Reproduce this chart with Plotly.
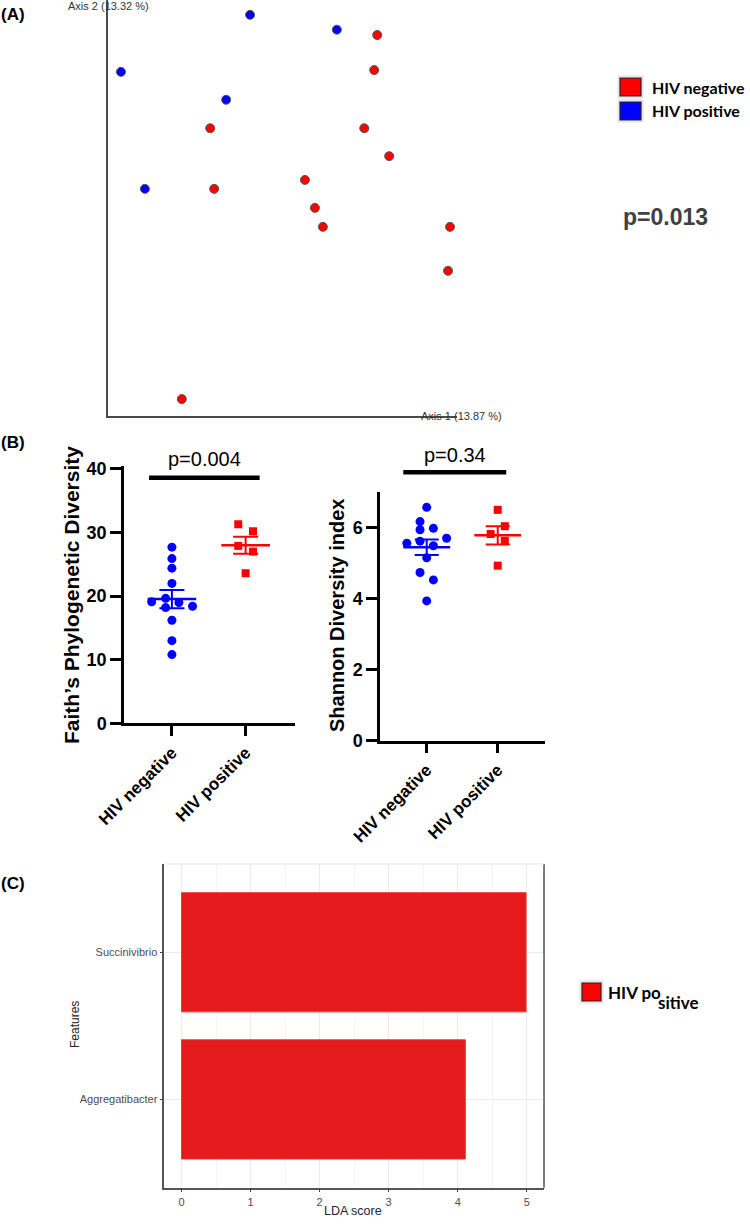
import numpy as np
import plotly.graph_objects as go

W, H = 750, 1225
ARIAL = "Arial, Liberation Sans, sans-serif"
CAL = "Lato, Open Sans, sans-serif"

# ---------------- Data ----------------
# (A) PCoA coordinates (Axis 1, Axis 2)
pcoa_neg_x = [0.240, 0.234, -0.095, 0.214, 0.264, 0.095, -0.087, 0.115, 0.131, 0.386, 0.382, -0.152]
pcoa_neg_y = [0.291, 0.232, 0.134, 0.134, 0.087, 0.047, 0.032, 0.000, -0.032, -0.032, -0.106, -0.322]
pcoa_pos_x = [-0.015, 0.159, -0.274, -0.063, -0.226]
pcoa_pos_y = [0.325, 0.300, 0.229, 0.182, 0.032]

# (B) alpha diversity
groups = ["HIV negative", "HIV positive"]
faith_neg = [27.7, 25.9, 24.4, 22.0, 19.65, 19.1, 19.0, 18.4, 18.2, 16.2, 13.0, 10.8]
faith_pos = [31.3, 30.2, 27.9, 27.0, 23.6]
shannon_neg = [6.56, 6.16, 5.93, 5.97, 5.55, 5.61, 5.48, 5.69, 5.14, 4.73, 4.52, 3.93]
shannon_pos = [6.49, 6.03, 5.81, 5.62, 4.92]
faith_neg_jit = [0, 0, 0, 0, -0.085, -0.275, 0.095, 0.28, -0.085, 0, 0, 0]
faith_pos_jit = [-0.1, 0.1, -0.1, 0.1, 0]
shannon_neg_jit = [0, -0.094, -0.094, 0.094, -0.28, -0.094, 0.094, 0.28, 0, -0.094, 0.094, 0]
shannon_pos_jit = [0, 0.1, -0.1, 0.1, 0]
faith_p = "p=0.004"
shannon_p = "p=0.34"

# (C) LEfSe
features = ["Aggregatibacter", "Succinivibrio"]
lda = [4.11, 4.99]

# ---------------- Figure ----------------
fig = go.Figure()

def px_x(p):
    return p / W

def px_y(p):
    return 1 - p / H

def ann(text, x, y, size, bold=False, color="black", xanchor="center",
        yanchor="middle", angle=0, family=ARIAL):
    fig.add_annotation(text=text, x=px_x(x), y=px_y(y), xref="paper", yref="paper",
                       showarrow=False, xanchor=xanchor, yanchor=yanchor,
                       textangle=angle, borderpad=0,
                       font=dict(size=size, color=color, family=family,
                                 weight=700 if bold else 400))

# Panel A
fig.add_trace(go.Scatter(x=pcoa_neg_x, y=pcoa_neg_y, mode="markers", xaxis="x", yaxis="y",
                         cliponaxis=False,
                         marker=dict(size=9, color="#FF0000", line=dict(color="#555555", width=1))))
fig.add_trace(go.Scatter(x=pcoa_pos_x, y=pcoa_pos_y, mode="markers", xaxis="x", yaxis="y",
                         cliponaxis=False,
                         marker=dict(size=9, color="#0000FF", line=dict(color="#555555", width=1))))

# Panel B
def dot_panel(xa, ya, neg, pos, neg_j, pos_j):
    sets = [(neg, neg_j, "#0000FF", "circle", 9), (pos, pos_j, "#FF0000", "square", 8)]
    for i, (vals, jit, col, sym, sz) in enumerate(sets):
        fig.add_trace(go.Scatter(x=[i + j for j in jit], y=vals, mode="markers",
                                 xaxis=xa, yaxis=ya, cliponaxis=False,
                                 marker=dict(symbol=sym, size=sz, color=col, line=dict(width=0))))
        m = float(np.mean(vals))
        se = float(np.std(vals, ddof=1) / np.sqrt(len(vals)))
        fig.add_trace(go.Scatter(x=[i - 0.33, i + 0.33], y=[m, m], mode="lines",
                                 xaxis=xa, yaxis=ya, line=dict(color=col, width=2.5)))
        fig.add_trace(go.Scatter(
            x=[i, i, None, i - 0.17, i + 0.17, None, i - 0.17, i + 0.17],
            y=[m - se, m + se, None, m + se, m + se, None, m - se, m - se],
            mode="lines", xaxis=xa, yaxis=ya, line=dict(color=col, width=2)))

dot_panel("x2", "y2", faith_neg, faith_pos, faith_neg_jit, faith_pos_jit)
dot_panel("x3", "y3", shannon_neg, shannon_pos, shannon_neg_jit, shannon_pos_jit)

# Panel C
fig.add_trace(go.Bar(x=lda, y=features, orientation="h", xaxis="x4", yaxis="y4",
                     width=0.81, marker=dict(color="#E41A1C", line=dict(color="#EE3535", width=1))))

# ---------------- Axes ----------------
hidden = dict(showticklabels=False, showgrid=False, zeroline=False, ticks="")
b2r = [-0.65, 1.67]
b3r = [-0.658, 1.666]
fig.update_layout(
    template="none",
    width=W, height=H, autosize=False, margin=dict(l=0, r=0, t=0, b=0, pad=0, autoexpand=False),
    paper_bgcolor="white", plot_bgcolor="rgba(0,0,0,0)", showlegend=False,
    xaxis=dict(domain=[px_x(108), px_x(457)], range=[-0.3, 0.4], anchor="y", automargin=False,
               showline=True, linecolor="#4a4a4a", linewidth=1.5, **hidden),
    yaxis=dict(domain=[px_y(415.7), 1], range=[-0.35, 0.35], anchor="x", automargin=False,
               showline=True, linecolor="#4a4a4a", linewidth=1.5, **hidden),
    xaxis2=dict(domain=[px_x(124), px_x(295)], range=b2r, anchor="y2", automargin=False,
                tickvals=[0, 1], ticktext=groups, tickangle=-45,
                ticks="outside", ticklen=10, tickwidth=2.5, tickcolor="black",
                showline=True, linecolor="black", linewidth=2.5,
                showgrid=False, zeroline=False,
                tickfont=dict(size=17, family=ARIAL, color="black", weight=700)),
    yaxis2=dict(domain=[px_y(723.3), px_y(466.4)], range=[0, 40.4], anchor="x2", automargin=False,
                tickvals=[0, 10, 20, 30, 40], ticks="outside", ticklen=11, tickwidth=2.5,
                tickcolor="black", showline=True, linecolor="black", linewidth=2.5,
                showgrid=False, zeroline=False,
                tickfont=dict(size=18, family=ARIAL, color="black", weight=700)),
    xaxis3=dict(domain=[px_x(380), px_x(545)], range=b3r, anchor="y3", automargin=False,
                tickvals=[0, 1], ticktext=groups, tickangle=-45,
                ticks="outside", ticklen=10, tickwidth=2.5, tickcolor="black",
                showline=True, linecolor="black", linewidth=2.5,
                showgrid=False, zeroline=False,
                tickfont=dict(size=17, family=ARIAL, color="black", weight=700)),
    yaxis3=dict(domain=[px_y(740.7), px_y(491.7)], range=[0, 7], anchor="x3", automargin=False,
                tickvals=[0, 2, 4, 6], ticks="outside", ticklen=11, tickwidth=2.5,
                tickcolor="black", showline=True, linecolor="black", linewidth=2.5,
                showgrid=False, zeroline=False,
                tickfont=dict(size=18, family=ARIAL, color="black", weight=700)),
    xaxis4=dict(domain=[px_x(164.3), px_x(544)], range=[-0.25, 5.25], anchor="y4", automargin=False,
                tickvals=[0, 1, 2, 3, 4, 5], ticks="outside", ticklen=3, tickwidth=1,
                tickcolor="#444", showline=True, linecolor="#555", linewidth=1.5,
                showgrid=True, gridcolor="#EBEBEB", gridwidth=1, zeroline=False,
                minor=dict(dtick=0.5, tick0=0, showgrid=True, gridcolor="#F4F4F4", gridwidth=0.6),
                tickfont=dict(size=11, family=ARIAL, color="#4D4D4D")),
    yaxis4=dict(domain=[px_y(1187.7), px_y(864)], type="category", categoryarray=features,
                categoryorder="array", range=[-0.6, 1.6], anchor="x4", automargin=False,
                ticks="outside", ticklen=3, tickwidth=1, tickcolor="#444",
                showline=True, linecolor="#555", linewidth=1.5,
                showgrid=True, gridcolor="#EBEBEB", gridwidth=1, zeroline=False,
                tickfont=dict(size=11, family=ARIAL, color="#4D4D4D")),
)

# significance bars (domain refs so they are not clipped)
def frac(v, r):
    return (v - r[0]) / (r[1] - r[0])

fig.add_shape(type="line", xref="x2 domain", yref="y2 domain",
              x0=frac(-0.31, b2r), x1=frac(1.19, b2r), y0=frac(38.6, [0, 40.4]), y1=frac(38.6, [0, 40.4]),
              line=dict(color="black", width=4.5))
fig.add_shape(type="line", xref="x3 domain", yref="y3 domain",
              x0=frac(-0.33, b3r), x1=frac(1.12, b3r), y0=frac(7.55, [0, 7]), y1=frac(7.55, [0, 7]),
              line=dict(color="black", width=4.5))

# panel C border (right / top)
fig.add_shape(type="line", xref="x4 domain", yref="y4 domain", x0=1, x1=1, y0=0, y1=1,
              line=dict(color="#555", width=1.5))
fig.add_shape(type="line", xref="x4 domain", yref="y4 domain", x0=0, x1=1, y0=1, y1=1,
              line=dict(color="#E3E3E3", width=1))

# legend boxes
def legend_box(x0, y0, x1, y1, color):
    fig.add_shape(type="rect", xref="paper", yref="paper",
                  x0=px_x(x0 - 2), x1=px_x(x1 + 2), y0=px_y(y1 + 2), y1=px_y(y0 - 2),
                  line=dict(color="#DDDDDD", width=1), fillcolor="#F2F2F2")
    fig.add_shape(type="rect", xref="paper", yref="paper",
                  x0=px_x(x0), x1=px_x(x1), y0=px_y(y1), y1=px_y(y0),
                  line=dict(color="#222222", width=1.2), fillcolor=color)

legend_box(620, 78, 641, 96, "#FF0000")
legend_box(620, 102, 641, 120, "#0000FF")
legend_box(582, 983, 601, 1001, "#FF0000")

# ---------------- Text ----------------
ann("(A)", 0, 14, 17, bold=True, xanchor="left")
ann("(B)", 0, 442, 17, bold=True, xanchor="left")
ann("(C)", 0, 883, 17, bold=True, xanchor="left")

ann("Axis 2 (13.32 %)", 108.5, 6, 11, color="#333333")
ann("Axis 1 (13.87 %)", 461, 415.5, 11, color="#333333")
ann("HIV negative", 651, 88, 16, bold=True, xanchor="left", family=CAL)
ann("HIV positive", 651, 111, 16, bold=True, xanchor="left", family=CAL)
ann("p=0.013", 665, 217, 23, bold=True, color="#404040")

ann(faith_p, 204, 459, 20)
ann(shannon_p, 455, 455, 20)
ann("Faith’s Phylogenetic Diversity", 71, 595, 21, bold=True, angle=-90)
ann("Shannon Diversity index", 337, 616, 20, bold=True, angle=-90)

ann("Features", 75, 1025, 12, color="#222222", angle=-90)
ann("LDA score", 353, 1211, 12.5, color="#222233")
ann("HIV po", 607, 993, 17, bold=True, xanchor="left", family=CAL)
ann("sitive", 657, 1002, 17, bold=True, xanchor="left", family=CAL)

fig.write_html("out.html", config={"displayModeBar": False},
               post_script="document.body.style.margin='0';document.body.style.padding='0';"
                           "document.body.style.overflow='hidden';")
